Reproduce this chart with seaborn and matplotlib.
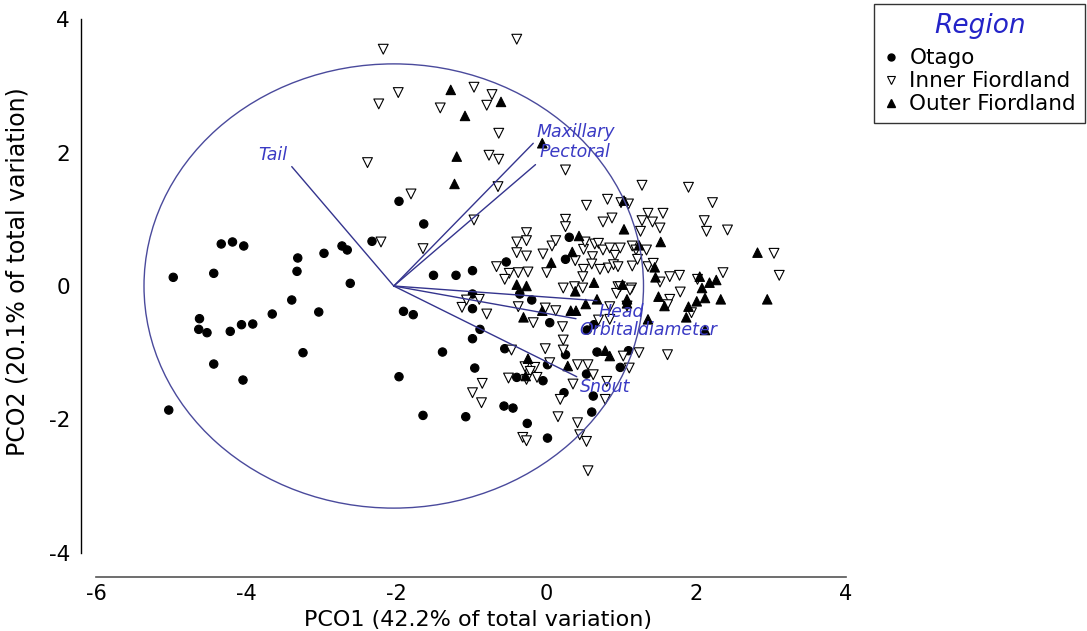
import matplotlib
matplotlib.use("Agg")
import matplotlib.pyplot as plt
import numpy as np
import pandas as pd
import seaborn as sns
from matplotlib.patches import Circle
from matplotlib.lines import Line2D

# ---------------- data ----------------
regions = ["Otago", "Inner Fiordland", "Outer Fiordland"]

otago_x = [-4.97, -4.43, -4.33, -4.18, -4.03, -3.31, -3.32, -2.96, -2.72, -2.65, -2.61, -2.32, -1.96,
           -3.39, -3.03, -3.65, -3.91, -4.06, -4.21, -4.62, -4.63, -4.52, -3.24, -4.43, -4.04, -5.03, -1.96,
           -1.63, -1.50, -1.20, -0.98, -0.53, 0.31, 0.26,
           -1.90, -1.77, -0.98, -0.98, -0.35, -0.19, 0.05, -0.88, -0.98, -1.38, -0.55, 0.26, 0.68, -0.95,
           0.02, -0.39, -0.04, 0.24, 0.63, -0.56, -0.44, -1.64, -1.07, 0.61, -0.25, 0.02,
           0.55, 0.64, 1.10, 0.99, 0.54]
otago_y = [0.13, 0.19, 0.63, 0.66, 0.60, 0.42, 0.22, 0.49, 0.60, 0.54, 0.04, 0.67, 1.27,
           -0.21, -0.39, -0.42, -0.57, -0.58, -0.68, -0.49, -0.65, -0.70, -1.00, -1.17, -1.41, -1.86, -1.36,
           0.93, 0.16, 0.16, 0.23, 0.36, 0.73, 0.40,
           -0.38, -0.43, -0.12, -0.34, -0.12, -0.21, -0.55, -0.65, -0.79, -0.99, -0.94, -1.03, -0.99, -1.23,
           -1.18, -1.37, -1.42, -1.60, -1.65, -1.80, -1.83, -1.94, -1.96, -1.89, -2.06, -2.28,
           -0.66, -0.58, -0.97, -1.22, -1.32]

inner_x = [-2.17, -2.23, -1.97, -2.38, -2.20, -0.39, -1.41, -0.96, -0.72, -0.79, -0.63, -0.76, -0.63, 0.26,
           -0.64, -1.80, -0.96, -1.64, 0.54, 0.26, 0.26, -0.26, -0.39, -0.26, 0.08, 0.13, -0.39, -0.26,
           -0.04, -0.66, -0.49, -0.37, -0.24, -0.55, 0.01, 0.50, 0.65, 0.62, 0.39, 0.50, 0.61, 0.49,
           0.23, 0.38, 0.49, 0.82, 1.00, 1.10, 1.28, 1.90, 2.22, 1.36, 1.56, 0.76, 0.88, 1.28, 1.42,
           1.52, 1.26, 2.11, 2.14, 2.42, 0.52, 0.70, 0.76, 0.85, 0.92, 0.99, 1.15, 1.20, 1.34, 0.83,
           0.90, 0.72, 0.96, 1.15, 1.22, 1.36, 1.43, 1.78, 1.79, 1.52, 1.65, 2.36, 3.04, 3.11, 0.96,
           1.14, 1.65, 1.62, 1.94, -0.17, -0.01, 0.13, 0.22, -0.37, -1.12, -1.06, -0.89, -0.79, 0.23,
           0.23, -0.01, -0.46, -0.28, -0.15, -0.21, -0.12, -0.26, -0.50, 0.05, 0.42, 0.56, 0.63, 0.36,
           -0.85, -0.98, -0.86, 0.19, 0.16, 0.42, 0.45, 0.54, -0.31, -0.26, 0.56, 1.62, 1.24, 1.03,
           1.11, 0.81, 0.79, 0.99, 1.12, 0.94, 1.08, 0.85, 0.70, 0.85, 2.02]
inner_y = [3.55, 2.73, 2.90, 1.85, 0.66, 3.70, 2.67, 2.98, 2.87, 2.71, 2.29, 1.96, 1.90, 1.74,
           1.49, 1.38, 0.99, 0.56, 1.21, 1.00, 0.89, 0.80, 0.66, 0.68, 0.60, 0.68, 0.50, 0.45,
           0.48, 0.29, 0.19, 0.20, 0.21, 0.10, 0.20, 0.55, 0.63, 0.44, 0.38, 0.25, 0.33, 0.14,
           -0.03, -0.01, -0.03, 1.30, 1.25, 1.23, 1.51, 1.48, 1.25, 1.09, 1.09, 0.96, 1.02, 0.98, 0.96,
           0.87, 0.82, 0.98, 0.82, 0.84, 0.66, 0.64, 0.54, 0.57, 0.46, 0.57, 0.60, 0.54, 0.54, 0.27,
           0.32, 0.25, 0.29, 0.30, 0.40, 0.29, 0.34, 0.16, -0.09, 0.06, 0.14, 0.20, 0.49, 0.16, -0.01,
           -0.03, -0.20, -0.28, -0.40, -0.55, -0.33, -0.37, -0.61, -0.31, -0.32, -0.21, -0.20, -0.42, -0.81,
           -0.96, -0.94, -0.96, -1.21, -1.22, -1.28, -1.37, -1.40, -1.38, -1.15, -1.18, -1.18, -1.33, -1.47,
           -1.46, -1.60, -1.75, -1.70, -1.96, -2.05, -2.23, -2.33, -2.27, -2.32, -2.77, -1.03, -1.00, -1.05,
           -1.23, -1.43, -1.70, -0.01, -0.06, -0.11, -0.30, -0.31, -0.51, -0.50, 0.10]

outer_x = [-1.27, -0.60, -1.08, -0.05, -1.19, -1.22, 0.44, 0.35, 0.07, -0.39, -0.26, 0.64,
           1.04, 1.04, 1.53, 1.24, 1.45, 1.46, 1.02, 1.08, 0.68, 1.50, 1.58, 2.05, 2.08, 2.18,
           2.27, 2.12, 2.01, 2.33, 1.90, 1.87, 2.82, 2.95, 0.33, 0.40, 0.53, -0.05, -0.30, 1.36,
           1.08, 2.12, 0.79, 0.85, 0.39, -0.24, -0.27, 0.29]
outer_y = [2.94, 2.76, 2.55, 2.14, 1.94, 1.53, 0.75, 0.51, 0.35, 0.02, 0.00, 0.05,
           0.85, 1.28, 0.66, 0.61, 0.28, 0.13, 0.02, -0.20, -0.20, -0.16, -0.30, 0.14, -0.03, 0.05,
           0.09, -0.18, -0.23, -0.20, -0.31, -0.47, 0.50, -0.20, -0.37, -0.37, -0.27, -0.37, -0.47, -0.50,
           -0.26, -0.66, -0.97, -1.05, -0.08, -1.09, -1.35, -1.20]

vector_names = ["Tail", "Maxillary", "Pectoral", "Head", "Orbitaldiameter", "Snout"]
vector_x = [-3.39, -0.17, -0.14, 0.68, 0.40, 0.41]
vector_y = [1.79, 2.14, 1.82, -0.22, -0.49, -1.36]
vector_origin = (-2.03, 0.0)
circle_radius = 3.33

x_ticks = [-6, -4, -2, 0, 2, 4]
y_ticks = [-4, -2, 0, 2, 4]
x_label = "PCO1 (42.2% of total variation)"
y_label = "PCO2 (20.1% of total variation)"

# label placement (layout only)
label_pos = [(-3.84, 1.96), (-0.12, 2.31), (-0.09, 2.01), (0.70, -0.39), (0.45, -0.66), (0.45, -1.52)]

# ---------------- build frame ----------------
df = pd.concat([
    pd.DataFrame({"PCO1": otago_x, "PCO2": otago_y, "Region": "Otago"}),
    pd.DataFrame({"PCO1": inner_x, "PCO2": inner_y, "Region": "Inner Fiordland"}),
    pd.DataFrame({"PCO1": outer_x, "PCO2": outer_y, "Region": "Outer Fiordland"}),
], ignore_index=True)

sns.set_style("white")
plt.rcParams["font.family"] = ["DejaVu Sans"]
plt.rcParams["text.color"] = "black"
plt.rcParams["axes.labelcolor"] = "black"

W, H = 1087, 631
fig = plt.figure(figsize=(W / 100, H / 100), dpi=100)
xl, xr = -6.2, 4.4
yb, yt = -4.36, 4.1
px_x = lambda v: 546 + 75 * v
px_y = lambda v: 286 - 66.7 * v
ax_left_px, ax_right_px = px_x(xl), px_x(xr)
ax_bot_px, ax_top_px = px_y(yb), px_y(yt)
ax = fig.add_axes([ax_left_px / W, 1 - ax_bot_px / H,
                   (ax_right_px - ax_left_px) / W, (ax_bot_px - ax_top_px) / H])
ax_w_px = ax_right_px - ax_left_px
ax_h_px = ax_bot_px - ax_top_px

line_col = "#34348e"
text_col = "#3a3ac4"

sns.scatterplot(
    data=df, x="PCO1", y="PCO2", hue="Region", style="Region", size="Region",
    hue_order=regions, style_order=regions, size_order=regions,
    palette={"Otago": "black", "Inner Fiordland": "white", "Outer Fiordland": "black"},
    markers={"Otago": "o", "Inner Fiordland": "v", "Outer Fiordland": "^"},
    sizes={"Otago": 36, "Inner Fiordland": 50, "Outer Fiordland": 46},
    edgecolor="black", linewidth=0.8, legend=False, ax=ax, zorder=3,
)

# circle and vectors
ax.add_patch(Circle(vector_origin, circle_radius, fill=False, edgecolor="#4a4a9c", lw=1.0, zorder=4))
for name, vx, vy, (lx, ly) in zip(vector_names, vector_x, vector_y, label_pos):
    ax.plot([vector_origin[0], vx], [vector_origin[1], vy], color=line_col, lw=1.0, zorder=4)
    ax.text(lx, ly, name, color=text_col, fontsize=12.5, style="italic", ha="left", va="center", zorder=5)

ax.set_xlim(xl, xr)
ax.set_ylim(yb, yt)
ax.set_xticks(x_ticks)
ax.set_yticks(y_ticks)
ax.set_xticklabels([str(t) for t in x_ticks])
ax.set_yticklabels([str(t) for t in y_ticks])
for s in ["top", "right"]:
    ax.spines[s].set_visible(False)
ax.spines["left"].set_bounds(-4, 4)
ax.spines["bottom"].set_bounds(-6, 4)
ax.spines["left"].set_color("black")
ax.spines["bottom"].set_color("#555555")
ax.spines["left"].set_linewidth(1.0)
ax.spines["bottom"].set_linewidth(1.2)
ax.tick_params(axis="both", direction="inout", length=12, width=1.0, labelsize=15.5,
               colors="black", labelcolor="black")
ax.tick_params(axis="x", color="#555555", pad=-0.5, labelsize=15)
ax.tick_params(axis="y", pad=2)

ax.set_xlabel(x_label, fontsize=16)
ax.xaxis.label.set_va("bottom")
ax.xaxis.set_label_coords(0.5, -(H - 1 - ax_bot_px) / ax_h_px)
ax.set_ylabel(y_label, fontsize=17)
ax.yaxis.label.set_va("center")
ax.yaxis.set_label_coords(-(ax_left_px - 18) / ax_w_px, (ax_bot_px - 272) / ax_h_px)
ax.grid(False)

# legend
handles = [
    Line2D([], [], ls="", marker="o", mfc="black", mec="black", ms=5),
    Line2D([], [], ls="", marker="v", mfc="white", mec="black", ms=6, mew=0.8),
    Line2D([], [], ls="", marker="^", mfc="black", mec="black", ms=6),
]
leg = fig.legend(handles, regions, title="Region", loc="upper right",
                 bbox_to_anchor=(1085 / W, 1 - 4 / H), frameon=True, fancybox=False,
                 fontsize=15.5, title_fontsize=19, handletextpad=0.5, labelspacing=0.14,
                 borderpad=0.42, handlelength=0.7, borderaxespad=0, edgecolor="black")
try:
    leg._legend_box.sep = 6.5
except Exception:
    pass
leg.get_frame().set_linewidth(1.0)
leg.get_title().set_color("#2424c8")
leg.get_title().set_style("italic")

fig.savefig("out.png", dpi=100, facecolor="white")
